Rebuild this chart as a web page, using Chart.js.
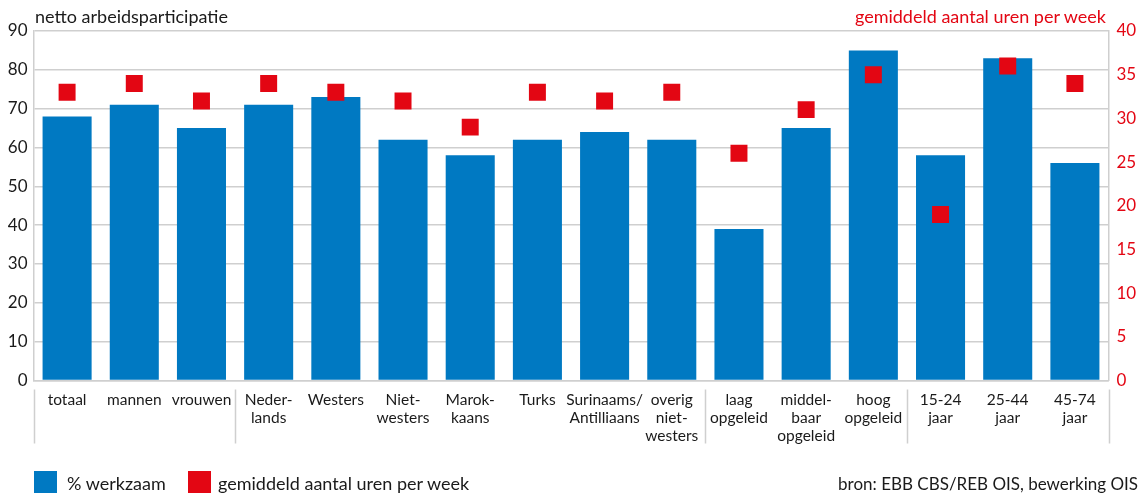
<!DOCTYPE html>
<html>
<head>
<meta charset="utf-8">
<script src="https://cdn.jsdelivr.net/npm/chart.js@4.4.1/dist/chart.umd.min.js"></script>
<style>
  html, body { margin: 0; padding: 0; background: #fff; }
  #wrap { position: relative; width: 1141px; height: 496px; font-family: Lato, "Open Sans", sans-serif; }
  #c { position: absolute; left: 0; top: 0; }
  .lbl { position: absolute; font-size: 18px; white-space: nowrap; line-height: 1; }
  .sw { position: absolute; width: 23px; height: 22px; }
</style>
</head>
<body>
<div id="wrap">
  <canvas id="c" width="1141" height="496"></canvas>
  <div class="lbl" style="left:35px; top:7px; color:#1a1a1a;">netto arbeidsparticipatie</div>
  <div class="lbl" style="right:35px; top:7px; color:#e30613;">gemiddeld aantal uren per week</div>
  <div class="sw" style="left:34px; top:471px; background:#0079c2;"></div>
  <div class="lbl" style="left:67px; top:474px; color:#1a1a1a;">% werkzaam</div>
  <div class="sw" style="left:188px; top:471px; background:#e30613;"></div>
  <div class="lbl" style="left:218px; top:474px; color:#1a1a1a;">gemiddeld aantal uren per week</div>
  <div class="lbl" style="right:3px; top:475px; color:#1a1a1a; font-size:17px;">bron: EBB CBS/REB OIS, bewerking OIS</div>
</div>
<script>
const categories = [
  ["totaal"], ["mannen"], ["vrouwen"],
  ["Neder-", "lands"], ["Westers"], ["Niet-", "westers"], ["Marok-", "kaans"], ["Turks"],
  ["Surinaams/", "Antilliaans"], ["overig", "niet-", "westers"],
  ["laag", "opgeleid"], ["middel-", "baar", "opgeleid"], ["hoog", "opgeleid"],
  ["15-24", "jaar"], ["25-44", "jaar"], ["45-74", "jaar"]
];
const groupSizes = [3, 7, 3, 3];
const werkzaam = [68, 71, 65, 71, 73, 62, 58, 62, 64, 62, 39, 65, 85, 58, 83, 56];
const uren = [33, 34, 32, 34, 33, 32, 29, 33, 32, 33, 26, 31, 35, 19, 36, 34];
const leftTicks = { min: 0, max: 90, step: 10 };
const rightTicks = { min: 0, max: 40, step: 5 };

const BLUE = '#0079c2', RED = '#e30613', GRID = '#cfcfcf', TXT = '#1a1a1a';
const FONT = 'Lato, "Open Sans", sans-serif';

const separators = {
  id: 'separators',
  afterDraw(chart) {
    const x = chart.scales.x;
    const ctx = chart.ctx;
    const bounds = [-0.5];
    let acc = -0.5;
    groupSizes.forEach(g => { acc += g; bounds.push(acc); });
    ctx.save();
    ctx.strokeStyle = GRID;
    ctx.lineWidth = 1.5;
    bounds.forEach(b => {
      const px = Math.round(x.getPixelForValue(b)) + 0.5;
      ctx.beginPath();
      ctx.moveTo(px, chart.chartArea.bottom + 9);
      ctx.lineTo(px, chart.chartArea.bottom + 63);
      ctx.stroke();
    });
    ctx.restore();
  }
};

new Chart(document.getElementById('c'), {
  type: 'bar',
  data: {
    labels: categories,
    datasets: [
      {
        type: 'line',
        label: 'gemiddeld aantal uren per week',
        data: uren,
        yAxisID: 'y1',
        showLine: false,
        pointStyle: 'rect',
        pointRadius: 12,
        pointHoverRadius: 12,
        pointBackgroundColor: RED,
        pointBorderWidth: 0,
        borderColor: RED,
        backgroundColor: RED,
        order: 1
      },
      {
        type: 'bar',
        label: '% werkzaam',
        data: werkzaam,
        yAxisID: 'y',
        backgroundColor: BLUE,
        barPercentage: 0.73,
        categoryPercentage: 1,
        order: 2
      }
    ]
  },
  options: {
    responsive: false,
    animation: false,
    devicePixelRatio: 1,
    layout: { padding: { top: 31, left: 0, right: 0, bottom: 0 } },
    plugins: { legend: { display: false }, tooltip: { enabled: false } },
    scales: {
      x: {
        grid: { display: false, drawTicks: false },
        border: { display: true, color: GRID, width: 1.5 },
        ticks: {
          color: TXT, font: { family: FONT, size: 15.5, lineHeight: 1.14 },
          padding: 11, maxRotation: 0, autoSkip: false
        },
        afterFit(s) { s.height = 115.5; }
      },
      y: {
        position: 'left',
        min: leftTicks.min, max: leftTicks.max,
        grid: { color: GRID, lineWidth: 1.5, drawTicks: false },
        border: { display: true, color: GRID, width: 1.5 },
        ticks: { stepSize: leftTicks.step, color: TXT, font: { family: FONT, size: 17 }, padding: 6 },
        afterFit(s) { s.width = 33.5; }
      },
      y1: {
        position: 'right',
        min: rightTicks.min, max: rightTicks.max,
        grid: { display: false, drawTicks: false },
        border: { display: true, color: GRID, width: 1.5 },
        ticks: { stepSize: rightTicks.step, color: RED, font: { family: FONT, size: 17 }, padding: 8 },
        afterFit(s) { s.width = 32.5; }
      }
    }
  },
  plugins: [separators]
});
</script>
</body>
</html>
